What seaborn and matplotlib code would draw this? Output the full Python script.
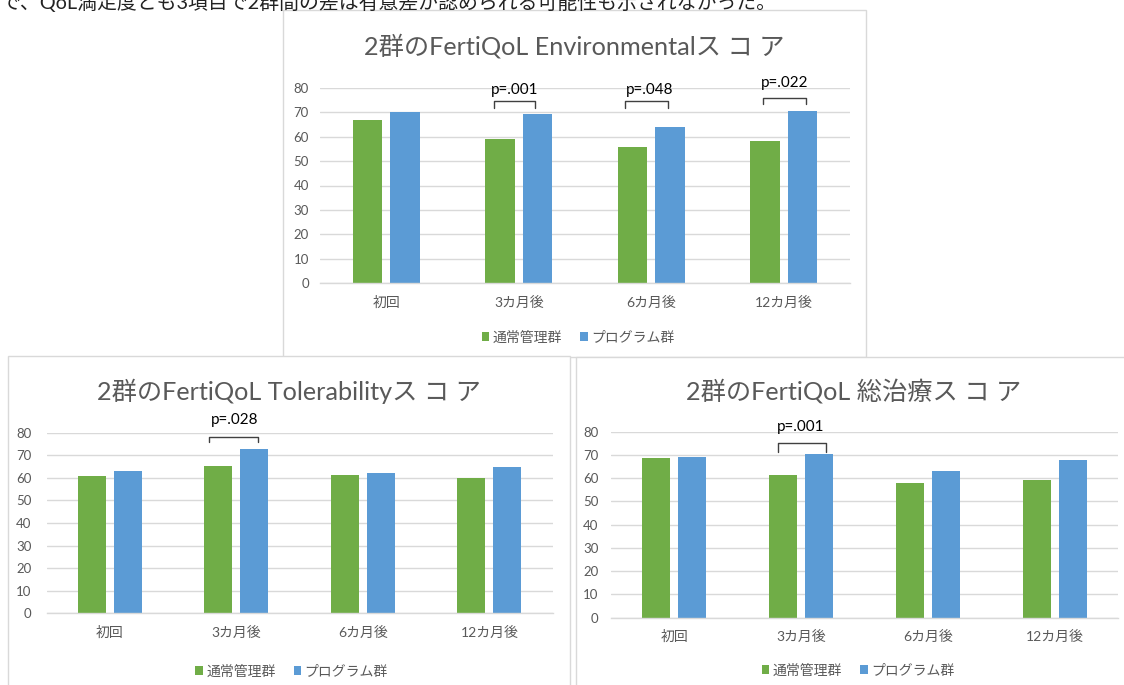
import matplotlib
matplotlib.use("Agg")
import matplotlib.pyplot as plt
import seaborn as sns
import pandas as pd
from matplotlib.patches import Rectangle, Patch

sns.set_theme(style="white")
plt.rcParams["font.family"] = ["Lato", "Noto Sans CJK JP", "DejaVu Sans"]

# ---------------- data ----------------
categories = ["初回", "3カ月後", "6カ月後", "12カ月後"]
groups = ["通常管理群", "プログラム群"]

env_usual = [66.7, 59.1, 55.8, 58.4]
env_program = [70.1, 69.4, 63.9, 70.5]
env_p = ["", "p=.001", "p=.048", "p=.022"]

tol_usual = [61.0, 65.2, 61.3, 59.8]
tol_program = [63.2, 72.8, 62.1, 64.6]
tol_p = ["", "p=.028", "", ""]

total_usual = [68.7, 61.5, 57.8, 59.1]
total_program = [69.1, 70.4, 63.1, 67.7]
total_p = ["", "p=.001", "", ""]

y_ticks = [0, 10, 20, 30, 40, 50, 60, 70, 80]

titles = [
    "2群のFertiQoL Environmentalス コ ア",
    "2群のFertiQoL Tolerabilityス コ ア",
    "2群のFertiQoL 総治療ス コ ア",
]
header_text = "で、QoL満足度とも3項目で2群間の差は有意差が認められる可能性も示されなかった。"

colors = ["#70AD47", "#5B9BD5"]
TEXT_GRAY = "#595959"
GRID_GRAY = "#D9D9D9"

# ---------------- layout (pixels) ----------------
W, H = 1124, 685
fig = plt.figure(figsize=(W / 100, H / 100), dpi=100)
fig.patch.set_facecolor("white")


def fx(x):
    return x / W


def fy(y):
    return 1 - y / H


def add_panel_box(x0, y0, x1, y1, z):
    r = Rectangle((fx(x0), fy(y1)), fx(x1) - fx(x0), fy(y0) - fy(y1),
                  transform=fig.transFigure, facecolor="white",
                  edgecolor=GRID_GRAY, linewidth=1.0, zorder=z)
    fig.patches.append(r)


# header text line, cut off at the top of the image as in the source page
fig.text(fx(0), fy(9.5), header_text, ha="left", va="baseline",
         fontsize=14.3, color="#222222")

add_panel_box(283, 10, 866, 357, 0)
add_panel_box(8, 356, 570, 700, 1)
add_panel_box(576, 357, 1134, 700, 1)

panels = [
    dict(usual=env_usual, program=env_program, pvals=env_p, title=titles[0],
         ax=(320, 850, 88, 283), title_xy=(574.5, 46), legend_xy=(578, 337),
         ypad=8,
         brackets={1: (-0.19, 0.125, 74.5, 71.8, 79.3, -0.03),
                   2: (-0.196, 0.125, 74.5, 71.8, 79.3, -0.014),
                   3: (-0.153, 0.168, 75.9, 73.4, 82.0, 0.01)}),
    dict(usual=tol_usual, program=tol_program, pvals=tol_p, title=titles[1],
         ax=(46.6, 552.6, 432.7, 613.3), title_xy=(289, 391), legend_xy=(291.5, 671),
         ypad=11,
         brackets={1: (-0.22, 0.17, 78.2, 75.7, 85.6, -0.013)}),
    dict(usual=total_usual, program=total_program, pvals=total_p, title=titles[2],
         ax=(611, 1118, 431.7, 617.7), title_xy=(854, 391), legend_xy=(858, 670),
         ypad=9,
         brackets={1: (-0.18, 0.20, 75.3, 71.1, 81.9, 0.0)}),
]

for p in panels:
    x0, x1, y0, y1 = p["ax"]
    ax = fig.add_axes([fx(x0), fy(y1), fx(x1) - fx(x0), fy(y0) - fy(y1)])
    ax.set_zorder(2)
    ax.patch.set_alpha(0)

    df = pd.DataFrame({
        "時点": categories * 2,
        "群": [groups[0]] * 4 + [groups[1]] * 4,
        "スコア": list(p["usual"]) + list(p["program"]),
    })
    sns.barplot(data=df, x="時点", y="スコア", hue="群", order=categories,
                hue_order=groups, palette=colors, saturation=1,
                width=0.568, gap=0.218, linewidth=0, legend=False, ax=ax)

    ax.set_ylim(0, 80)
    ax.set_xlim(-0.5, 3.5)
    ax.set_yticks(y_ticks)
    ax.set_xlabel("")
    ax.set_ylabel("")
    ax.grid(axis="y", color=GRID_GRAY, linewidth=1.0)
    ax.grid(axis="x", visible=False)
    ax.set_axisbelow(True)
    for s in ["left", "right", "top"]:
        ax.spines[s].set_visible(False)
    ax.spines["bottom"].set_color(GRID_GRAY)
    ax.spines["bottom"].set_linewidth(1.0)
    ax.tick_params(axis="y", length=0, labelsize=9.5, colors=TEXT_GRAY, pad=p["ypad"])
    ax.tick_params(axis="x", length=0, labelsize=10, colors=TEXT_GRAY, pad=9)

    # significance brackets
    for i, (bl, br, ytop, ybot, ytxt, tx) in p["brackets"].items():
        ax.plot([i + bl, i + bl, i + br, i + br], [ybot, ytop, ytop, ybot],
                color="#404040", linewidth=1.0, clip_on=False)
        ax.text(i + tx, ytxt, p["pvals"][i], ha="center", va="center",
                fontsize=11, color="black", clip_on=False)

    fig.text(fx(p["title_xy"][0]), fy(p["title_xy"][1]), p["title"],
             ha="center", va="center", fontsize=18.2, color=TEXT_GRAY, zorder=3)

    handles = [Patch(facecolor=c, edgecolor="none") for c in colors]
    leg = fig.legend(handles, groups, loc="center",
                     bbox_to_anchor=(fx(p["legend_xy"][0]), fy(p["legend_xy"][1])),
                     ncol=2, frameon=False, fontsize=10, handlelength=0.55,
                     handleheight=0.55, handletextpad=0.25, columnspacing=1.3,
                     borderpad=0, borderaxespad=0)
    for t in leg.get_texts():
        t.set_color(TEXT_GRAY)
    leg.set_zorder(3)

fig.savefig("out.png", dpi=100, facecolor="white")
